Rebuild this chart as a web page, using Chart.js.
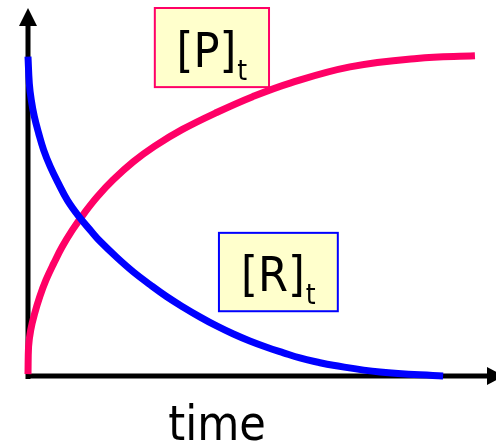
<!DOCTYPE html>
<html lang="en">
<head>
    <meta charset="UTF-8">
    <title>[R]t and [P]t against time</title>
    <script src="https://cdn.jsdelivr.net/npm/chart.js"></script>
    <style>
        html, body { margin: 0; padding: 0; background: #fff; }
        #wrap { width: 496px; height: 444px; }
    </style>
</head>
<body>
    <div id="wrap"><canvas id="myChart"></canvas></div>
    <script>
        // Values (time and concentration, both on a 0-100 scale)
        const rTime = [0, 0.28, 0.7, 1.35, 2.29, 3.35, 4.76, 6.47, 8.4, 10.9, 13.6, 15.4, 19.0, 22.5, 26.1,
                       29.6, 33.2, 36.8, 40.3, 43.9, 47.4, 51.0, 54.6, 58.1, 61.7, 65.2, 75.2, 88.7];
        const rConc = [86.8, 79.5, 75.0, 70.5, 65.9, 61.4, 56.9, 52.4, 47.8, 43.3, 39.2, 36.6, 32.2, 28.3, 24.8,
                       21.6, 18.7, 16.0, 13.6, 11.4, 9.5, 7.8, 6.3, 4.9, 3.8, 2.9, 1.1, 0];

        const pTime = [0, 0.12, 0.58, 1.43, 2.5, 3.85, 5.5, 7.3, 9.5, 12.0, 14.8, 18.2, 22.5, 27.0,
                       33.0, 40.3, 48.0, 56.0, 68.8, 83.1, 95.5];
        const pConc = [0.5, 8.0, 12.5, 17.0, 21.5, 26.1, 30.6, 35.1, 39.7, 44.2, 48.7, 53.3, 58.2, 62.4,
                       67.0, 71.6, 75.9, 79.6, 84.0, 86.3, 87.0];

        const xTitle = 'time';

        // label boxes, in data coordinates
        const labels = [
            { main: '[P]', sub: 't', x0: 27.1, x1: 51.5, yTop: 100, yBottom: 78.5, border: '#ff0066' },
            { main: '[R]', sub: 't', x0: 40.8, x1: 66.2, yTop: 38.9, yBottom: 17.6, border: '#0000ff' }
        ];

        const family = '"DejaVu Sans Condensed", "DejaVu Sans", sans-serif';
        const mainFont = '48px ' + family;
        const subFont = '28px ' + family;

        const extras = {
            id: 'extras',
            beforeDatasetsDraw(chart) {
                const { ctx, chartArea, scales: { x, y } } = chart;
                const x0 = x.getPixelForValue(0);
                const y0 = y.getPixelForValue(0);
                ctx.save();
                ctx.fillStyle = '#000';
                // y axis with arrow
                ctx.fillRect(x0 - 2.5, chartArea.top + 17, 5, y0 + 3 - chartArea.top - 17);
                ctx.beginPath();
                ctx.moveTo(x0, chartArea.top);
                ctx.lineTo(x0 - 9, chartArea.top + 18);
                ctx.lineTo(x0 + 9, chartArea.top + 18);
                ctx.closePath();
                ctx.fill();
                // x axis with arrow (tip runs past the edge)
                ctx.fillRect(x0 - 1, y0 - 2.5, chartArea.right - 8 - x0, 5);
                ctx.beginPath();
                ctx.moveTo(chartArea.right + 8, y0);
                ctx.lineTo(chartArea.right - 9, y0 - 9);
                ctx.lineTo(chartArea.right - 9, y0 + 9);
                ctx.closePath();
                ctx.fill();
                ctx.restore();
            },
            afterDatasetsDraw(chart) {
                const { ctx, chartArea, scales: { x, y } } = chart;
                ctx.save();
                labels.forEach(l => {
                    const left = x.getPixelForValue(l.x0);
                    const right = x.getPixelForValue(l.x1);
                    const top = y.getPixelForValue(l.yTop);
                    const bottom = y.getPixelForValue(l.yBottom);
                    ctx.fillStyle = '#ffffcc';
                    ctx.fillRect(left, top, right - left, bottom - top);
                    ctx.strokeStyle = l.border;
                    ctx.lineWidth = 2;
                    ctx.strokeRect(left, top, right - left, bottom - top);

                    ctx.font = mainFont;
                    const wMain = ctx.measureText(l.main).width;
                    ctx.font = subFont;
                    const wSub = ctx.measureText(l.sub).width;
                    const gap = 1;
                    const start = (left + right) / 2 - (wMain + wSub + gap) / 2;
                    const base = bottom - 20;
                    ctx.fillStyle = '#000';
                    ctx.textBaseline = 'alphabetic';
                    ctx.textAlign = 'left';
                    ctx.font = mainFont;
                    ctx.fillText(l.main, start, base);
                    ctx.font = subFont;
                    ctx.fillText(l.sub, start + wMain + gap, base + 13);
                });
                // axis title
                ctx.font = mainFont;
                ctx.textAlign = 'center';
                ctx.fillStyle = '#000';
                ctx.fillText(xTitle, x.getPixelForValue(40.4), chartArea.bottom + 64);
                ctx.restore();
            }
        };

        const toPoints = (t, c) => t.map((v, i) => ({ x: v, y: c[i] }));

        const ctx = document.getElementById('myChart').getContext('2d');
        new Chart(ctx, {
            type: 'line',
            data: {
                datasets: [
                    {
                        label: '[R]t',
                        data: toPoints(rTime, rConc),
                        borderColor: '#0000ff',
                        borderWidth: 7,
                        borderCapStyle: 'butt',
                        tension: 0.4,
                        pointRadius: 0,
                        clip: false
                    },
                    {
                        label: '[P]t',
                        data: toPoints(pTime, pConc),
                        borderColor: '#ff0066',
                        borderWidth: 7,
                        borderCapStyle: 'butt',
                        tension: 0.4,
                        pointRadius: 0,
                        clip: false
                    }
                ]
            },
            options: {
                responsive: true,
                maintainAspectRatio: false,
                animation: false,
                layout: { padding: { left: 28, right: 0, top: 8, bottom: 68 } },
                plugins: { legend: { display: false }, tooltip: { enabled: false } },
                scales: {
                    x: { type: 'linear', min: 0, max: 100, display: false },
                    y: { min: 0, max: 100, display: false }
                }
            },
            plugins: [extras]
        });
    </script>
</body>
</html>
